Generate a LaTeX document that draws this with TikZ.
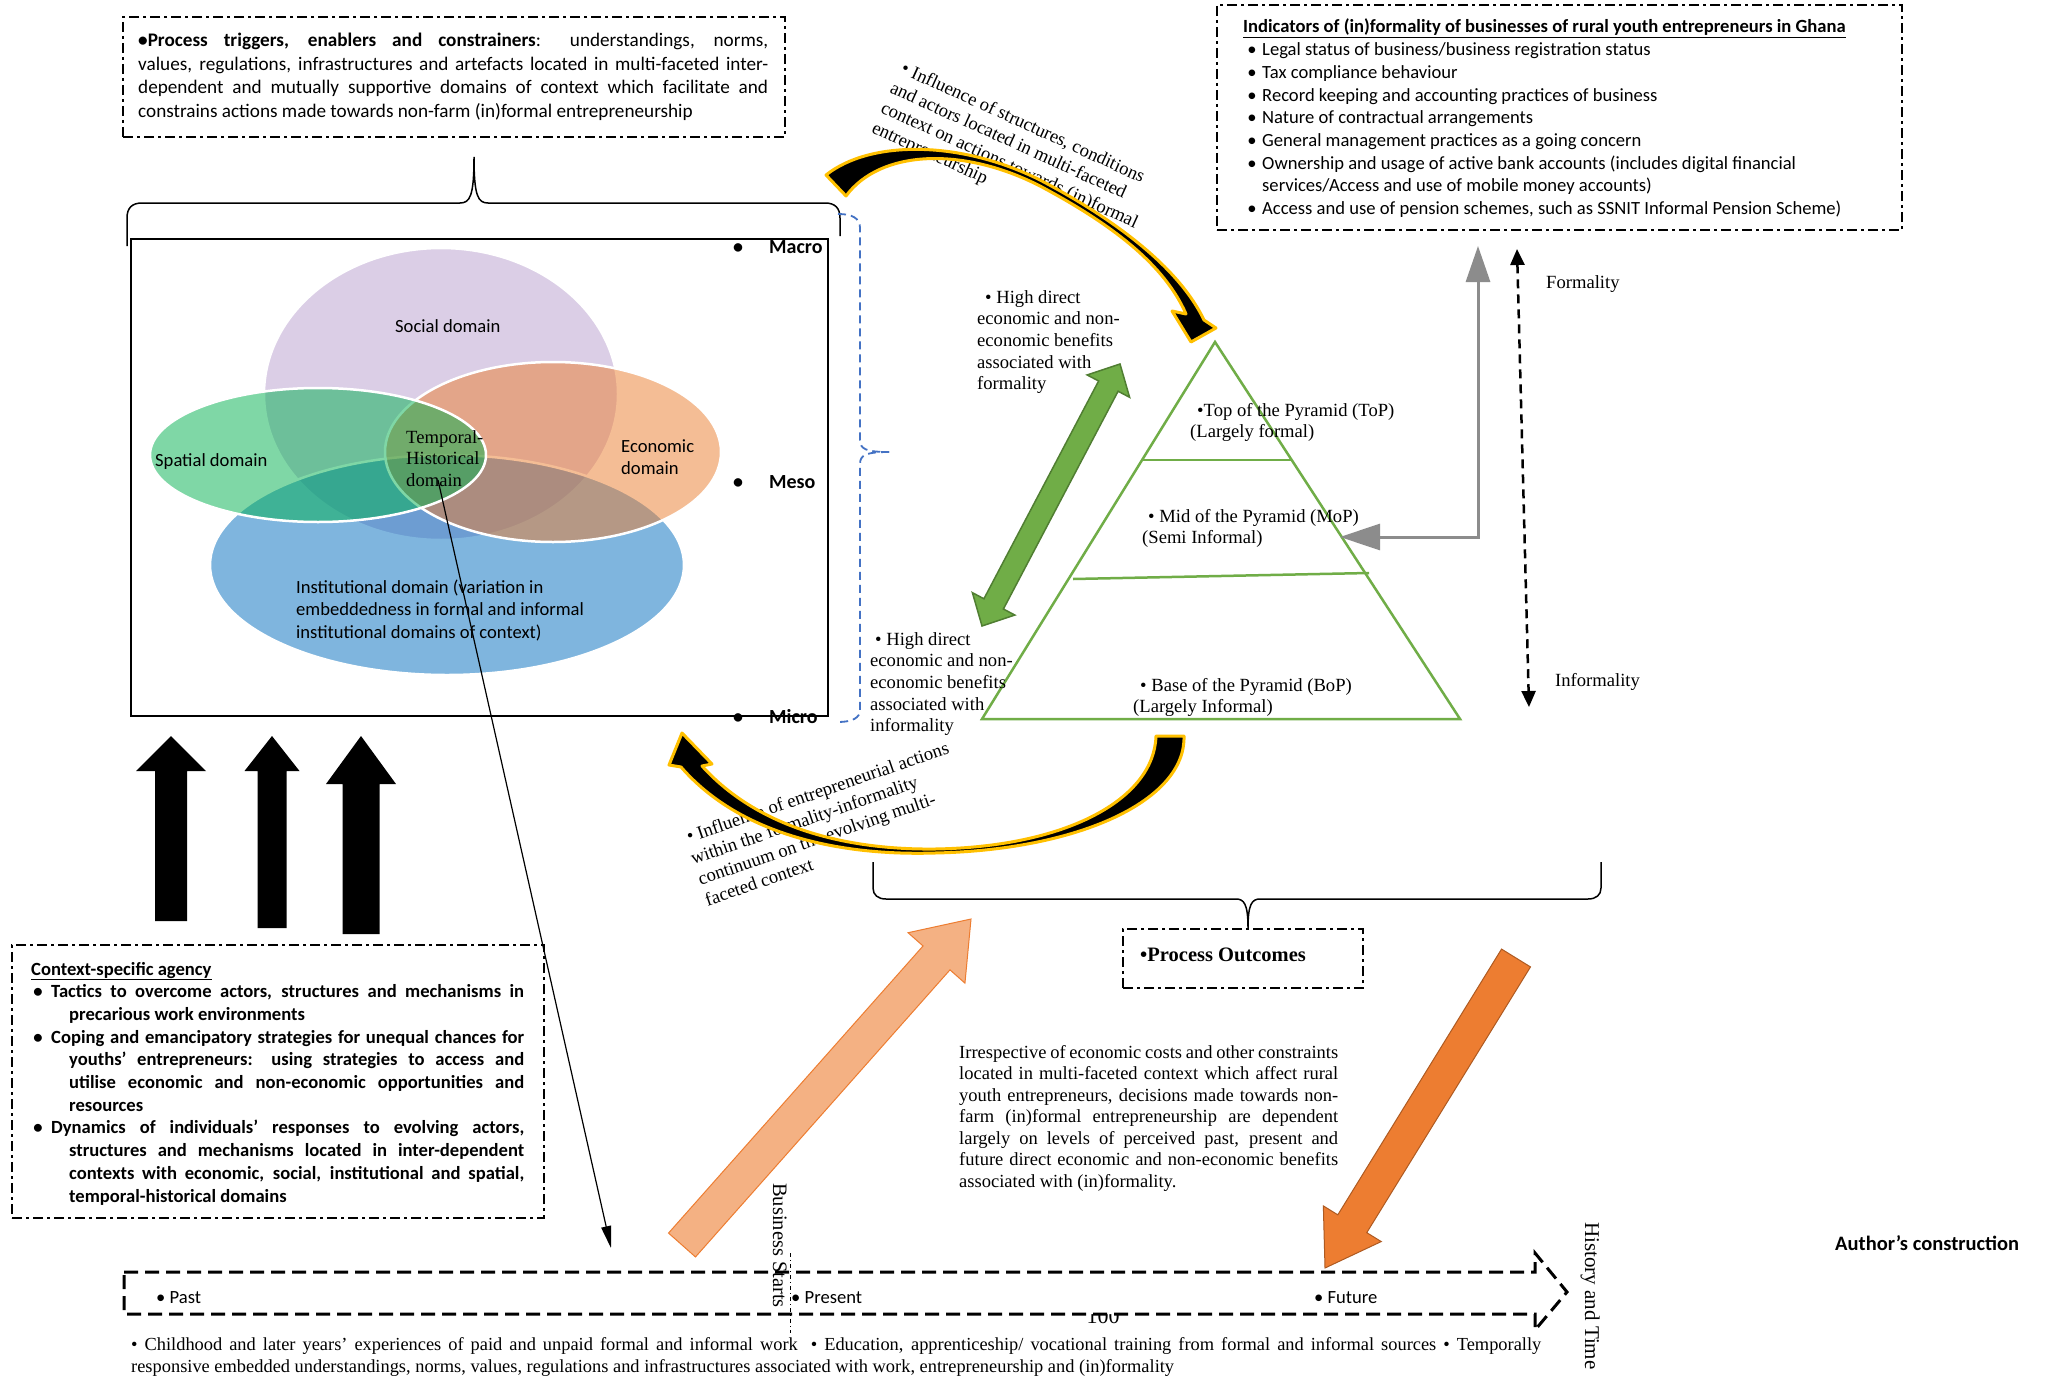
\documentclass[tikz,border=0pt]{standalone}
\usepackage{fontspec}
\setmainfont{Liberation Serif}
\newfontfamily\calfont{Carlito}
\usetikzlibrary{arrows.meta,calc}
\definecolor{socC}{HTML}{B99FCF}
\definecolor{instC}{HTML}{006DBF}
\definecolor{ecoC}{HTML}{EB7D2D}
\definecolor{spaC}{HTML}{01B14F}
\definecolor{pyrG}{HTML}{70AD47}
\definecolor{pyrGd}{HTML}{507E32}
\definecolor{goldC}{HTML}{FFC000}
\definecolor{salC}{HTML}{F4B183}
\definecolor{oraC}{HTML}{ED7D31}
\definecolor{oraD}{HTML}{AE5A21}
\definecolor{blueB}{HTML}{4472C4}
\definecolor{grayA}{HTML}{8C8C8C}
\newcommand{\fsz}[2]{\fontsize{#1pt}{#2pt}\selectfont}
\newcommand{\blockarr}[6]{%
  \coordinate (babase) at ($(#3)!#6!(#2)$);
  \path[#1] ($(#2)!#4!90:(#3)$) -- ($(babase)!#4!-90:(#2)$) -- ($(babase)!#5!-90:(#2)$) -- (#3) -- ($(babase)!#5!90:(#2)$) -- ($(babase)!#4!90:(#2)$) -- ($(#2)!#4!-90:(#3)$) -- cycle;}
\newcommand{\dblarr}[6]{%
  \coordinate (dbA) at ($(#2)!#6!(#3)$);
  \coordinate (dbB) at ($(#3)!#6!(#2)$);
  \path[#1] ($(dbA)!#4!90:(#3)$) -- ($(dbB)!#4!-90:(#2)$) -- ($(dbB)!#5!-90:(#2)$) -- (#3) -- ($(dbB)!#5!90:(#2)$) -- ($(dbB)!#4!90:(#2)$) -- ($(dbA)!#4!-90:(#3)$) -- ($(dbA)!#5!-90:(#3)$) -- (#2) -- ($(dbA)!#5!90:(#3)$) -- cycle;}
\newcommand{\bul}{\noindent\llap{•\hspace{5.5pt}}}
\tikzset{
  dd/.style={draw=black, line width=2.5pt, dash pattern=on 10pt off 4pt on 3pt off 4pt, inner sep=0pt},
  txt/.style={inner sep=0pt, anchor=base west},
  venn/.style={draw=white, line width=2.5pt},
  curv/.style={fill=black, draw=goldC, line width=3pt, line join=round},
  pyr/.style={draw=pyrG, line width=2.5pt},
  tlstyle/.style={draw=black, fill=white, line width=3pt, dash pattern=on 14pt off 7pt},
}
\begin{document}
\begin{tikzpicture}[x=1pt,y=-1pt]
\useasboundingbox (0,0) rectangle (2049,1375);
\fill[white] (0,0) rectangle (2049,1375);

% ---------- Venn diagram ----------
\begin{scope}[fill opacity=0.5]
\draw[venn, fill=socC] (441,394) ellipse [x radius=177, y radius=146];
\draw[venn, fill=instC] (447,565) ellipse [x radius=237, y radius=110];
\draw[venn, fill=ecoC] (553,452) ellipse [x radius=168, y radius=90];
\draw[venn, fill=spaC] (318,455) ellipse [x radius=168, y radius=67];
\end{scope}
\node[draw, line width=2pt, minimum width=697pt, minimum height=477pt, inner sep=0pt] (ctx) at (479.5,477.5) {};

\node[txt] (socL) at (395,332) {\calfont\fsz{18.6}{22.7}Social domain};
\node[txt] (spaL) at (155,466) {\calfont\fsz{18.6}{22.7}Spatial domain};
\node[txt] (ecoL) at (621,452) {\parbox[t]{100pt}{\calfont\fsz{18.6}{22}Economic\\domain}};
\node[txt] (temL) at (406,443) {\parbox[t]{100pt}{\fsz{18.6}{21.5}Temporal-\\Historical\\domain}};
\node[txt] (insL) at (296,593) {\parbox[t]{360pt}{\calfont\fsz{18.6}{22.5}Institutional domain (variation in\\embeddedness in formal and informal\\institutional domains of context)}};

\node[txt] (macro) at (733,253) {\calfont\bfseries\fsz{20}{22}•\hspace{26pt}Macro};
\node[txt] (meso) at (733,488) {\calfont\bfseries\fsz{20}{22}•\hspace{26pt}Meso};
\node[txt] (micro) at (733,723) {\calfont\bfseries\fsz{20}{22}•\hspace{26pt}Micro};

% ---------- top-left box ----------
\node[dd, minimum width=662pt, minimum height=120pt] (trigbox) at (454,77) {};
\node[txt] (trigtxt) at (138,47) {\parbox[t]{630pt}{\calfont\fsz{19.2}{23.5}\textbf{•Process triggers, enablers and constrainers}: understandings, norms,\linebreak values, regulations, infrastructures and artefacts located in multi-faceted inter-\linebreak dependent and mutually supportive domains of context which facilitate and\linebreak constrains actions made towards non-farm (in)formal entrepreneurship}};

% black brace under it
\draw[line width=1.5pt] (127,246) -- (127,218) .. controls (127,208) and (132,203) .. (142,203) -- (460,203) .. controls (470,203) and (474,196) .. (474,157)
  .. controls (474,196) and (478,203) .. (488,203) -- (825,203) .. controls (835,203) and (840,208) .. (840,218) -- (840,236);

% blue dashed brace
\draw[blueB, line width=1.8pt, dash pattern=on 8pt off 5pt] (838,214) .. controls (852,214) and (860,218) .. (860,228) -- (860,440) .. controls (860,449) and (866,452) .. (889,452);
\draw[blueB, line width=1.8pt, dash pattern=on 8pt off 5pt] (889,452) .. controls (866,452) and (860,455) .. (860,464) -- (860,710) .. controls (860,718) and (852,722) .. (838,722);

% ---------- top-right box ----------
\node[dd, minimum width=685pt, minimum height=225pt] (indic) at (1559.5,117.5) {};
\node[txt] (indtxt) at (1243,33) {\parbox[t]{655pt}{\calfont\fsz{18.6}{22.7}\raggedright
\textbf{\underline{Indicators of (in)formality of businesses of rural youth entrepreneurs in Ghana}}\par
\leftskip=19pt
\bul Legal status of business/business registration status\par
\bul Tax compliance behaviour\par
\bul Record keeping and accounting practices of business\par
\bul Nature of contractual arrangements\par
\bul General management practices as a going concern\par
\bul Ownership and usage of active bank accounts (includes digital financial\\services/Access and use of mobile money accounts)\par
\bul Access and use of pension schemes, such as SSNIT Informal Pension Scheme)\par}};

% formality dashed arrow
\coordinate (ftop) at (1517,249);
\coordinate (fbot) at (1529,707);
\draw[line width=2.5pt, dash pattern=on 9pt off 6pt, {Triangle[length=16pt,width=14pt]}-{Triangle[length=16pt,width=14pt]}] (ftop) -- (fbot);
\node[txt] (forml) at (1546,288) {\fsz{18.6}{21.7}Formality};
\node[txt] (informl) at (1555,686) {\fsz{18.6}{21.7}Informality};

% ---------- pyramid ----------
\coordinate (apex) at (1215,342);
\coordinate (pbl) at (982,719);
\coordinate (pbr) at (1460,719);
\draw[pyr, line join=miter] (apex) -- (pbl) -- (pbr) -- cycle;
\draw[pyr] (1143,460) -- (1291,460);
\draw[pyr] (1073,579) -- (1369,573);
\node[txt] (topL) at (1190,416) {\parbox[t]{260pt}{\fsz{18.6}{21.7}\hspace*{7pt}•Top of the Pyramid (ToP)\\(Largely formal)}};
\node[txt] (mopL) at (1142,522) {\parbox[t]{260pt}{\fsz{18.6}{21.7}\hspace*{6pt}• Mid of the Pyramid (MoP)\\(Semi Informal)}};
\node[txt] (bopL) at (1133,691) {\parbox[t]{260pt}{\fsz{18.6}{21.7}\hspace*{7pt}• Base of the Pyramid (BoP)\\(Largely Informal)}};

% gray arrow from indicators box to MoP
\coordinate (gtop) at (1478,246);
\coordinate (gleft) at (1340,537);
\draw[grayA, line width=3pt, {Triangle[length=36pt,width=24pt]}-{Triangle[length=40pt,width=26pt]}] (gtop) |- (gleft);

% benefits labels
\node[txt] (hdf) at (977,303) {\parbox[t]{200pt}{\fsz{18.6}{21.7}\hspace*{8pt}• High direct\\economic and non-\\economic benefits\\associated with\\formality}};
\node[txt] (hdi) at (870,645) {\parbox[t]{200pt}{\fsz{18.6}{21.7}\hspace*{5pt}• High direct\\economic and non-\\economic benefits\\associated with\\informality}};

% green double arrow
\coordinate (gA) at (982,626);
\coordinate (gB) at (1120,364);
\dblarr{fill=pyrG, draw=pyrGd, line width=1.5pt, line join=miter}{gA}{gB}{11pt}{24pt}{25pt}

% rotated texts
\node[txt, rotate=-24.5] (infTop) at (898,72) {\parbox[t]{420pt}{\fsz{18.6}{22}\hspace*{2pt}• Influence of structures, conditions\\and actors located in multi-faceted\\context on actions towards (in)formal\\entrepreneurship}};
\node[txt, rotate=19] (infBot) at (686,844) {\parbox[t]{420pt}{\fsz{18.6}{22}\hspace*{3pt}• Influence of entrepreneurial actions\\within the formality-informality\\continuum on the evolving multi-\\faceted context}};

% curved arrows (thick at the ends, thin in the middle)
\path[curv] (826,175) .. controls (870,140) and (960,140) .. (1040,180) .. controls (1120,222) and (1180,270) .. (1204,320) -- (1216,328) -- (1191,342) -- (1172,311) -- (1186,314) .. controls (1165,266) and (1115,226) .. (1040,186) .. controls (962,146) and (880,150) .. (846,196) -- cycle;
\path[curv] (1184,736) .. controls (1186,800) and (1080,850) .. (935,853) .. controls (840,856) and (740,835) .. (681,767) -- (669,765) -- (682,733) -- (712,764) -- (702,766) .. controls (760,830) and (850,850) .. (935,849) .. controls (1065,847) and (1154,800) .. (1156,736) -- cycle;

% brace under pyramid
\draw[line width=1.5pt] (873,862) -- (873,888) .. controls (873,895) and (878,899) .. (886,899) -- (1236,899) .. controls (1244,899) and (1248,904) .. (1248,928)
  .. controls (1248,904) and (1252,899) .. (1260,899) -- (1588,899) .. controls (1596,899) and (1601,895) .. (1601,888) -- (1601,862);
\node[dd, minimum width=240pt, minimum height=59pt] (pout) at (1243,958.5) {};
\node[txt] (poutL) at (1140,961) {\fsz{20.5}{24}\bfseries •Process Outcomes};

% irrespective paragraph
\node[txt] (irresp) at (959,1058) {\parbox[t]{379pt}{\fsz{18.5}{21.5}Irrespective of economic costs and other constraints\linebreak located in multi-faceted context which affect rural\linebreak youth entrepreneurs, decisions made towards non-\linebreak farm (in)formal entrepreneurship are dependent\linebreak largely on levels of perceived past, present and\linebreak future direct economic and non-economic benefits\linebreak associated with (in)formality.}};

% black up arrows
\coordinate (u1t) at (171,921); \coordinate (u1h) at (171,736);
\coordinate (u2t) at (272,928); \coordinate (u2h) at (272,736);
\coordinate (u3t) at (361,934); \coordinate (u3h) at (361,736);
\blockarr{fill=black}{u1t}{u1h}{16pt}{35pt}{35pt}
\blockarr{fill=black}{u2t}{u2h}{14.5pt}{27.5pt}{35pt}
\blockarr{fill=black}{u3t}{u3h}{18.5pt}{35pt}{48pt}

% agency box
\node[dd, minimum width=532pt, minimum height=273pt] (agency) at (278,1081.5) {};
\node[txt] (agtxt) at (31,975) {\parbox[t]{493pt}{\calfont\bfseries\fsz{18.6}{22.7}\underline{Context-specific agency}\par
{\leftskip=20pt\hangindent=18pt\hangafter=1\noindent\llap{•\hspace{8.5pt}}Tactics to overcome actors, structures and mechanisms in\linebreak precarious work environments\par}
{\leftskip=20pt\hangindent=18pt\hangafter=1\noindent\llap{•\hspace{8.5pt}}Coping and emancipatory strategies for unequal chances for\linebreak youths’ entrepreneurs: using strategies to access and\linebreak utilise economic and non-economic opportunities and\linebreak resources\par}
{\leftskip=20pt\hangindent=18pt\hangafter=1\noindent\llap{•\hspace{8.5pt}}Dynamics of individuals’ responses to evolving actors,\linebreak structures and mechanisms located in inter-dependent\linebreak contexts with economic, social, institutional and spatial,\linebreak temporal-historical domains\par}}};

% salmon and orange arrows
\coordinate (salT) at (682,1245); \coordinate (salH) at (971,919);
\blockarr{fill=salC, draw=oraC, line width=1pt}{salT}{salH}{18pt}{38pt}{52pt}
\coordinate (oraT) at (1516,958); \coordinate (oraH) at (1325,1268);
\blockarr{fill=oraC, draw=oraD, line width=1pt}{oraT}{oraH}{17pt}{34pt}{52pt}

% page number partly hidden, then timeline
\node[anchor=base, inner sep=0pt] (pnum) at (1103,1323) {\fsz{22}{24}100};
\coordinate (tl1) at (124,1272); \coordinate (tl2) at (1535,1272); \coordinate (tl3) at (1535,1253);
\coordinate (tl4) at (1567,1292); \coordinate (tl5) at (1535,1330); \coordinate (tl6) at (1535,1314); \coordinate (tl7) at (124,1314);
\draw[tlstyle] (tl1) -- (tl2) -- (tl3) -- (tl4) -- (tl5) -- (tl6) -- (tl7) -- cycle;
\node[txt] (past) at (156,1303) {\calfont\fsz{18.6}{22}• Past};
\node[txt] (present) at (791,1303) {\calfont\fsz{18.6}{22}• Present};
\node[txt] (future) at (1314,1303) {\calfont\fsz{18.6}{22}• Future};
\coordinate (bsA) at (790,1253); \coordinate (bsB) at (790,1333);
\draw[line width=1pt, dash pattern=on 4pt off 3pt on 1pt off 3pt] (bsA) -- (bsB);
\node[txt, rotate=-90] (bstarts) at (773,1183) {\fsz{20.5}{24}Business Starts};
\node[txt, rotate=-90] (histtime) at (1585,1222) {\fsz{21}{24}History and Time};
\node[txt] (bottxt) at (131,1350) {\parbox[t]{1410pt}{\fsz{18.4}{22}• Childhood and later years’ experiences of paid and unpaid formal and informal work\hspace{6pt} • Education, apprenticeship/ vocational training from formal and informal sources • Temporally\linebreak responsive embedded understandings, norms, values, regulations and infrastructures associated with work, entrepreneurship and (in)formality}};

\node[txt] (author) at (1835,1250) {\calfont\bfseries\fsz{20.5}{24}Author’s construction};

% thin arrow from temporal-historical domain to timeline
\coordinate (thS) at (438,480);
\coordinate (thE) at (611,1248);
\draw[line width=1.2pt, -{Triangle[length=22pt,width=10pt]}] (thS) -- (thE);
\end{tikzpicture}
\end{document}
